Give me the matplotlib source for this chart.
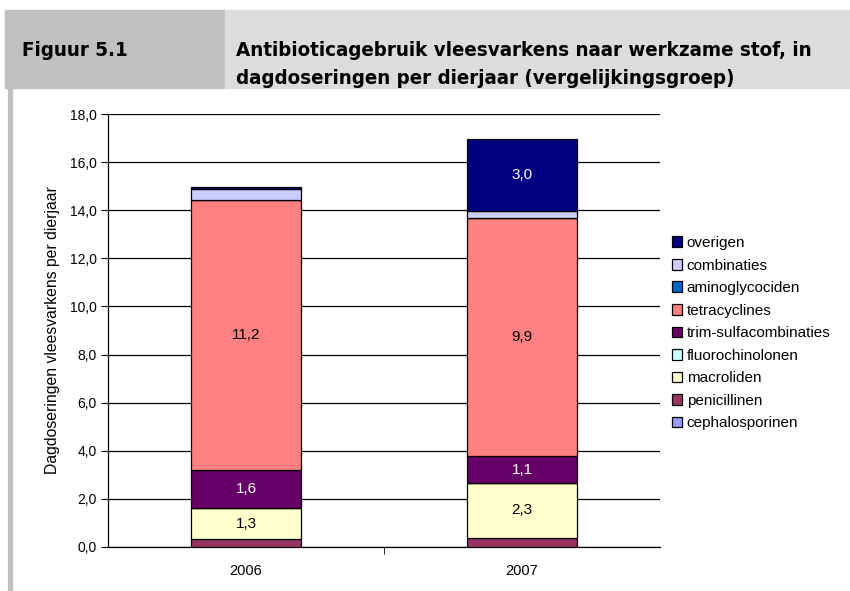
import numpy as np
import matplotlib
matplotlib.use('Agg')
import matplotlib.pyplot as plt
from matplotlib.patches import Rectangle

plt.rcParams['font.family'] = ['Liberation Sans', 'DejaVu Sans']

# data (stapel van onder naar boven)
jaren = ['2006', '2007']
stoffen = ['cephalosporinen', 'penicillinen', 'macroliden', 'fluorochinolonen',
           'trim-sulfacombinaties', 'tetracyclines', 'aminoglycociden',
           'combinaties', 'overigen']
cephalosporinen = [0.0, 0.0]
penicillinen = [0.32, 0.37]
macroliden = [1.3, 2.3]
fluorochinolonen = [0.0, 0.0]
trim_sulfa = [1.6, 1.1]
tetracyclines = [11.2, 9.9]
aminoglycociden = [0.0, 0.0]
combinaties = [0.45, 0.3]
overigen = [0.1, 3.0]
waarden = [cephalosporinen, penicillinen, macroliden, fluorochinolonen,
           trim_sulfa, tetracyclines, aminoglycociden, combinaties, overigen]
kleuren = ['#9999FF', '#993366', '#FFFFCC', '#CCFFFF', '#660066',
           '#FF8080', '#0066CC', '#CCCCFF', '#000080']
tekstkleur = ['black', 'white', 'black', 'black', 'white',
              'black', 'white', 'black', 'white']

fig = plt.figure(figsize=(8.5, 5.91), dpi=100)

# kop
fig.patches.append(Rectangle((5/850, 1-88/591), 220/850, 78/591,
                             transform=fig.transFigure, color='#C0C0C0', zorder=0))
fig.patches.append(Rectangle((225/850, 1-88/591), 625/850, 78/591,
                             transform=fig.transFigure, color='#DCDCDC', zorder=0))
fig.patches.append(Rectangle((8/850, 0), 4/850, 1-88/591,
                             transform=fig.transFigure, color='#C0C0C0', zorder=0))
kop = dict(fontsize=14.7, fontweight='bold', family='DejaVu Sans',
           fontstretch='condensed', va='center', ha='left')
fig.text(22/850, 1-50/591, 'Figuur 5.1', **kop)
fig.text(236/850, 1-50/591, 'Antibioticagebruik vleesvarkens naar werkzame stof, in', **kop)
fig.text(236/850, 1-78/591, 'dagdoseringen per dierjaar (vergelijkingsgroep)', **kop)

ax = fig.add_axes([108/850, 1-547/591, 552/850, 433/591])
x = np.arange(len(jaren))
onder = np.zeros(len(jaren))
for naam, vals, kl, tk in zip(stoffen, waarden, kleuren, tekstkleur):
    vals = np.array(vals)
    ax.bar(x, vals, 0.4, bottom=onder, color=kl, edgecolor='black',
           linewidth=0.9, label=naam, zorder=3)
    for xi, v, b in zip(x, vals, onder):
        if v >= 1.0:
            ax.text(xi, b + v/2, f'{v:.1f}'.replace('.', ','), ha='center',
                    va='center', color=tk, fontsize=11, zorder=4)
    onder += vals

ax.set_ylim(0, 18)
ax.set_xlim(-0.5, 1.5)
ax.set_yticks(np.arange(0, 18.1, 2))
ax.set_yticklabels([f'{t:.1f}'.replace('.', ',') for t in np.arange(0, 18.1, 2)])
ax.set_xticks(x)
ax.set_xticklabels(jaren)
ax.set_xticks([0.5], minor=True)
ax.tick_params(axis='x', which='major', length=0, pad=12, labelsize=10.5)
ax.tick_params(axis='x', which='minor', length=5, direction='out', color='black')
ax.tick_params(axis='y', length=5, direction='out', labelsize=10, pad=3)
ax.grid(axis='y', color='black', linewidth=0.9, zorder=0)
ax.spines['top'].set_visible(False)
ax.spines['right'].set_visible(False)
ax.spines['left'].set_linewidth(0.9)
ax.spines['bottom'].set_linewidth(0.9)
ax.set_ylabel('Dagdoseringen vleesvarkens per dierjaar', fontsize=11.3, labelpad=7)

handles, labels = ax.get_legend_handles_labels()
ax.legend(handles[::-1], labels[::-1], loc='upper left',
          bbox_to_anchor=(1.021, (547-236)/433), frameon=False, fontsize=11,
          handlelength=0.7, handleheight=0.7, handletextpad=0.3,
          labelspacing=0.56, borderaxespad=0, borderpad=0)

fig.savefig('out.png', dpi=100)
